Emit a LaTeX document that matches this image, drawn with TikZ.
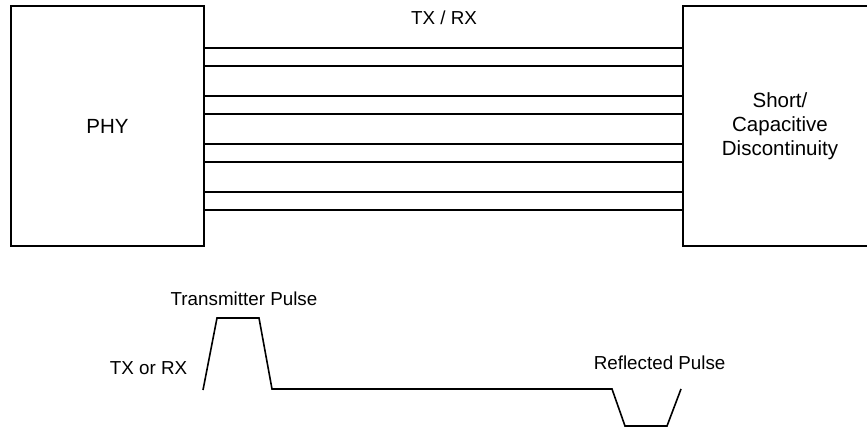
\documentclass[tikz,border=0pt]{standalone}
\usepackage{fontspec}
\setmainfont{Liberation Sans}
\usetikzlibrary{positioning,calc}

\begin{document}
\begin{tikzpicture}[x=1pt,y=-1pt,line width=1.6pt,
    blk/.style={draw,minimum width=193pt,minimum height=240pt,align=center,outer sep=0pt,
      font=\fontsize{20.5}{24}\selectfont},
    lbl/.style={inner sep=0pt,font=\fontsize{18.8}{22}\selectfont}]
    \useasboundingbox (0,0) rectangle (867,430);
    \clip (0,0) rectangle (867,430);
    \node[blk] (phy) at (107.5,126) {PHY};
    \node[blk,minimum width=194pt] (disc) at (780,126) {Short/\\Capacitive\\Discontinuity};
    % twisted pairs
    \foreach \dy in {78,60,30,12,-18,-36,-66,-84}
      \draw ([yshift=\dy pt]phy.east) -- ([yshift=\dy pt]disc.west);
    \node[lbl] (trx) at (444,18) {TX / RX};
    % pulses
    \coordinate (p0) at (203,390);
    \draw[line join=miter] (p0) -- (217,318) -- (259,318) -- (272,389) -- (612,389)
      -- (625,426) -- (667,426) -- (681,389);
    \node[lbl] (tp) at (244,299) {Transmitter Pulse};
    \node[lbl,anchor=east] (line) at (188,368) {TX or RX};
    \node[lbl,anchor=west] (rp) at (593,363) {Reflected Pulse};
\end{tikzpicture}
\end{document}
